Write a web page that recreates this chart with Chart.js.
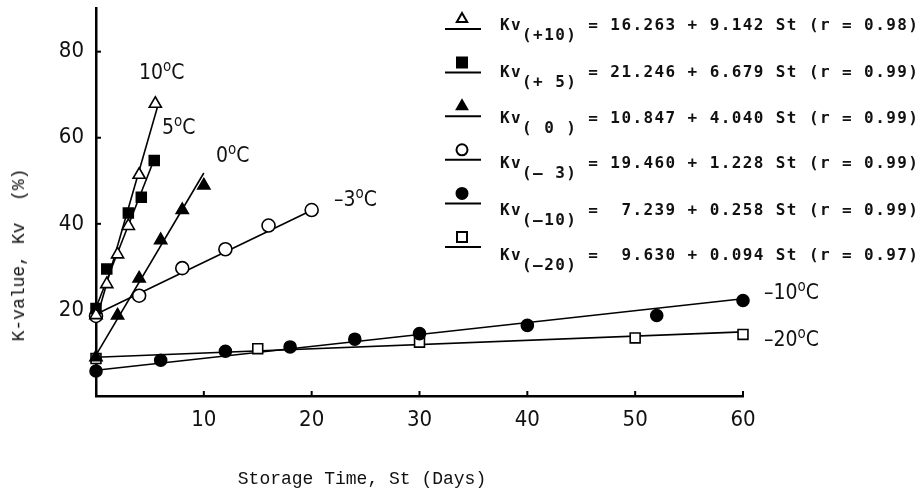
<!DOCTYPE html>
<html lang="en">
<head>
    <meta charset="UTF-8">
    <title>K-value vs storage time</title>
    <script src="https://cdn.jsdelivr.net/npm/chart.js"></script>
    <style>
        body { margin: 0; background: #fff; }
        #wrap { position: relative; width: 924px; height: 490px; }
        canvas { position: absolute; left: 0; top: 0; }
        .lbl {
            position: absolute;
            font-family: "Liberation Sans Narrow", "DejaVu Sans Condensed", "Liberation Sans", sans-serif;
            font-size: 21px; line-height: 24px; color: #111; white-space: nowrap;
        }
        .lbl sup { font-size: 15px; vertical-align: 8px; line-height: 0; }
        .eq {
            position: absolute; left: 500px;
            font-family: "DejaVu Sans Mono", monospace; font-weight: bold;
            font-size: 16px; letter-spacing: 1.4px; line-height: 18px;
            white-space: pre; color: #111;
        }
        .eq .sub { position: relative; top: 10px; }
        .axt {
            position: absolute;
            font-family: "Liberation Mono", "Courier New", monospace;
            font-size: 18px; line-height: 20px; white-space: pre; color: #111;
        }
    </style>
</head>
<body>
<div id="wrap">
    <canvas id="chart" width="924" height="490"></canvas>

    <!-- temperature labels next to the lines -->
    <div class="lbl" style="left:139px;top:60px">10<sup>o</sup>C</div>
    <div class="lbl" style="left:162px;top:115px">5<sup>o</sup>C</div>
    <div class="lbl" style="left:216px;top:143px">0<sup>o</sup>C</div>
    <div class="lbl" style="left:334px;top:187px">–3<sup>o</sup>C</div>
    <div class="lbl" style="left:764px;top:280px">–10<sup>o</sup>C</div>
    <div class="lbl" style="left:764px;top:327px">–20<sup>o</sup>C</div>

    <!-- regression equations -->
    <div class="eq" style="top:16px">Kv<span class="sub">(+10)</span> = 16.263 + 9.142 St (r = 0.98)</div>
    <div class="eq" style="top:63px">Kv<span class="sub">(+ 5)</span> = 21.246 + 6.679 St (r = 0.99)</div>
    <div class="eq" style="top:109px">Kv<span class="sub">( 0 )</span> = 10.847 + 4.040 St (r = 0.99)</div>
    <div class="eq" style="top:154px">Kv<span class="sub">(– 3)</span> = 19.460 + 1.228 St (r = 0.99)</div>
    <div class="eq" style="top:201px">Kv<span class="sub">(–10)</span> =  7.239 + 0.258 St (r = 0.99)</div>
    <div class="eq" style="top:246px">Kv<span class="sub">(–20)</span> =  9.630 + 0.094 St (r = 0.97)</div>

    <div class="axt" style="left:19px;top:255px;transform:translate(-50%,-50%) rotate(-90deg)">K-value, Kv  (%)</div>
    <div class="axt" style="left:362px;top:479px;transform:translate(-50%,-50%)">Storage Time, St (Days)</div>
</div>

<script>
    // tick labels
    const xTicks = [10, 20, 30, 40, 50, 60];
    const yTicks = [20, 40, 60, 80];

    // measured points (storage days, K-value %)
    const daysP10 = [0, 1, 2, 3, 4, 5.5];
    const kvP10 = [18.8, 26, 32.9, 39.5, 51.4, 67.9];
    const daysP5 = [0, 1, 3, 4.2, 5.4];
    const kvP5 = [20.3, 29.5, 42.5, 46.2, 54.7];
    const days0 = [0, 2, 4, 6, 8, 10];
    const kv0 = [9, 18.7, 27.3, 36.2, 43.2, 48.9];
    const daysM3 = [0, 4, 8, 12, 16, 20];
    const kvM3 = [18.6, 23.3, 29.7, 34.1, 39.6, 43.2];
    const daysM10 = [0, 6, 12, 18, 24, 30, 40, 52, 60];
    const kvM10 = [5.8, 8.3, 10.4, 11.4, 13.2, 14.5, 16.4, 18.7, 22.2];
    const daysM20 = [0, 15, 30, 50, 60];
    const kvM20 = [8.7, 11.0, 12.5, 13.5, 14.3];

    // regression lines, end points
    const fitDaysP10 = [0, 5.8];
    const fitKvP10 = [17.5, 68];
    const fitDaysP5 = [0, 5.4];
    const fitKvP5 = [20.5, 55];
    const fitDays0 = [0, 10];
    const fitKv0 = [9.5, 51.8];
    const fitDaysM3 = [0, 20.3];
    const fitKvM3 = [19, 43.5];
    const fitDaysM10 = [0, 60];
    const fitKvM10 = [6, 22.6];
    const fitDaysM20 = [0, 60];
    const fitKvM20 = [9, 14.9];

    const series = [
        { days: daysP10, kv: kvP10, fd: fitDaysP10, fk: fitKvP10, style: 'triangle', filled: false, r: 7 },
        { days: daysP5, kv: kvP5, fd: fitDaysP5, fk: fitKvP5, style: 'rect', filled: true, r: 7 },
        { days: days0, kv: kv0, fd: fitDays0, fk: fitKv0, style: 'triangle', filled: true, r: 7 },
        { days: daysM3, kv: kvM3, fd: fitDaysM3, fk: fitKvM3, style: 'circle', filled: false, r: 6.5 },
        { days: daysM10, kv: kvM10, fd: fitDaysM10, fk: fitKvM10, style: 'circle', filled: true, r: 6 },
        { days: daysM20, kv: kvM20, fd: fitDaysM20, fk: fitKvM20, style: 'rect', filled: false, r: 7 }
    ];

    const pairs = (xs, ys) => xs.map((x, i) => ({ x: x, y: ys[i] }));

    const datasets = [];
    series.forEach(s => {
        datasets.push({
            data: pairs(s.fd, s.fk),
            showLine: true,
            borderColor: '#000',
            borderWidth: 1.6,
            pointRadius: 0,
            clip: false,
            order: 2
        });
        datasets.push({
            data: pairs(s.days, s.kv),
            showLine: false,
            pointStyle: s.style,
            pointRadius: s.r,
            pointBorderWidth: 1.6,
            pointBorderColor: '#000',
            pointBackgroundColor: s.filled ? '#000' : '#fff',
            clip: false,
            order: 1
        });
    });

    function mark(ctx, s, x, y) {
        ctx.beginPath();
        if (s.style === 'triangle') {
            const r = 6;
            ctx.moveTo(x, y - r);
            ctx.lineTo(x + r * 0.866, y + r / 2);
            ctx.lineTo(x - r * 0.866, y + r / 2);
            ctx.closePath();
        } else if (s.style === 'rect') {
            ctx.rect(x - 5, y - 5, 10, 10);
        } else {
            ctx.arc(x, y, 5.5, 0, Math.PI * 2);
        }
        ctx.fillStyle = s.filled ? '#000' : '#fff';
        ctx.fill();
        ctx.lineWidth = 2;
        ctx.strokeStyle = '#000';
        ctx.stroke();
    }

    // inward ticks + legend symbols
    const extras = {
        id: 'extras',
        afterDraw(chart) {
            const { ctx, chartArea, scales: { x, y } } = chart;
            ctx.save();
            ctx.strokeStyle = '#000';
            ctx.lineWidth = 2;
            xTicks.forEach(v => {
                const px = x.getPixelForValue(v);
                ctx.beginPath();
                ctx.moveTo(px, chartArea.bottom);
                ctx.lineTo(px, chartArea.bottom - 5);
                ctx.stroke();
            });
            yTicks.forEach(v => {
                const py = y.getPixelForValue(v);
                ctx.beginPath();
                ctx.moveTo(chartArea.left, py);
                ctx.lineTo(chartArea.left + 5, py);
                ctx.stroke();
            });
            series.forEach((s, i) => {
                const ly = 29 + 43.6 * i;
                ctx.lineWidth = 2;
                ctx.beginPath();
                ctx.moveTo(445, ly);
                ctx.lineTo(481, ly);
                ctx.stroke();
                mark(ctx, s, 462, ly - 10);
            });
            ctx.restore();
        }
    };

    const tickFont = { family: '"Liberation Sans Narrow", "DejaVu Sans Condensed", "Liberation Sans", sans-serif', size: 22 };

    new Chart(document.getElementById('chart'), {
        type: 'scatter',
        data: { datasets: datasets },
        options: {
            responsive: false,
            animation: false,
            layout: { padding: { left: 0, top: 6, right: 181, bottom: 0 } },
            plugins: { legend: { display: false }, tooltip: { enabled: false } },
            scales: {
                x: {
                    type: 'linear', min: 0, max: 60,
                    afterBuildTicks: s => { s.ticks = xTicks.map(v => ({ value: v })); },
                    afterFit: s => { s.height = 94; s.paddingLeft = 0; s.paddingRight = 0; },
                    grid: { drawOnChartArea: false, drawTicks: false },
                    border: { color: '#000', width: 2.5 },
                    ticks: { color: '#111', font: tickFont, padding: 11, maxRotation: 0 }
                },
                y: {
                    type: 'linear', min: 0, max: 90,
                    afterBuildTicks: s => { s.ticks = yTicks.map(v => ({ value: v })); },
                    afterFit: s => { s.width = 96; s.paddingTop = 0; s.paddingBottom = 0; },
                    grid: { drawOnChartArea: false, drawTicks: false },
                    border: { color: '#000', width: 2.5 },
                    ticks: { color: '#111', font: tickFont, padding: 12 }
                }
            }
        },
        plugins: [extras]
    });
</script>
</body>
</html>
